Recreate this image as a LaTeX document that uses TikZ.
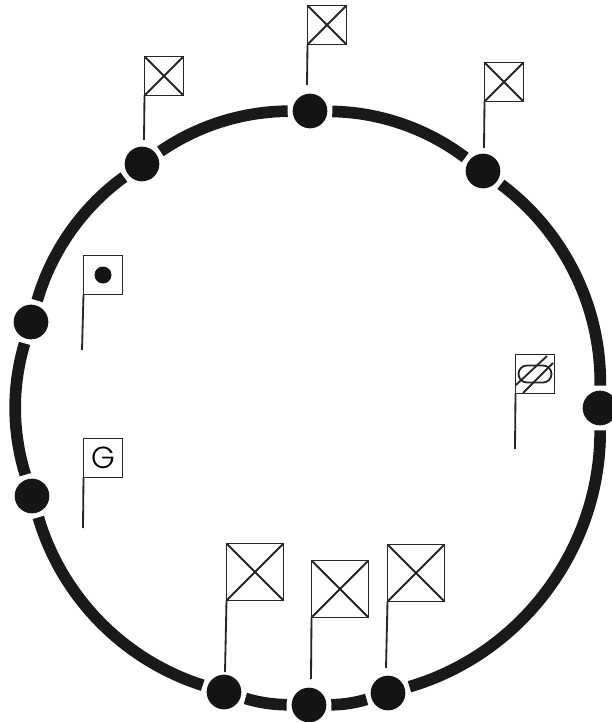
\documentclass[tikz,border=0pt]{standalone}
\usepackage{fontspec}
\usepackage{xcolor}
\usepackage{tikz}
\usetikzlibrary{shapes.misc}
\newfontfamily\flagfont{Poppins Light}

\begin{document}
\begin{tikzpicture}[x=0.3mm, y=-0.3mm,
  stn/.style={circle, fill=black!92, minimum size=10.4mm, inner sep=0pt, outer sep=1.5mm},
  rail/.style={line width=3.5mm, black!90, looseness=0.87},
  pole/.style={line width=0.55mm, black!85},
  flagbox/.style={rectangle, draw=black!85, line width=0.55mm, fill=white, minimum size=11.7mm, inner sep=0pt, outer sep=0pt},
  flagbig/.style={flagbox, minimum size=17.1mm},
  crossed/.style={path picture={
    \draw[line width=0.55mm, black!85] (path picture bounding box.north west) -- (path picture bounding box.south east);
    \draw[line width=0.55mm, black!85] (path picture bounding box.south west) -- (path picture bounding box.north east);}}]
\useasboundingbox (0,0) rectangle (611,722);
% stations round the ring
\node[stn] (top) at (310,111) {};
\node[stn] (ne) at (483,171) {};
\node[stn] (east) at (600,408) {};
\node[stn] (se) at (388,693) {};
\node[stn] (south) at (309,705) {};
\node[stn] (sw) at (224,692) {};
\node[stn] (wlow) at (32,496) {};
\node[stn] (wup) at (31,322) {};
\node[stn] (nw) at (142,164) {};
\draw[rail] (top) to[bend left=18] (ne);
\draw[rail, looseness=0.9] (ne) to[bend left=27] (east);
\draw[rail, looseness=0.94] (east) to[bend left=37] (se);
\draw[rail] (se) to[bend left=8] (south);
\draw[rail] (south) to[bend left=8] (sw);
\draw[rail, looseness=0.9] (sw) to[bend left=28] (wlow);
\draw[rail] (wlow) to[bend left=17] (wup);
\draw[rail] (wup) to[bend left=19] (nw);
\draw[rail] (nw) to[bend left=17] (top);
% small flags
\node[flagbox, crossed] (ftop) at (327,25) {};
\node[flagbox, crossed] (fnw) at (164,76) {};
\node[flagbox, crossed] (fne) at (504,82) {};
\node[flagbox] (fdot) at (103,275) {};
\node[circle, fill=black!92, minimum size=5.1mm, inner sep=0pt] (dot) at (fdot.center) {};
\node[flagbox, font=\flagfont\fontsize{26}{26}\selectfont] (fg) at (103,458) {G};
\node[flagbox] (fbar) at (535,374) {};
\node[rounded rectangle, draw=black!85, line width=0.55mm, minimum width=9.9mm, minimum height=5.1mm, inner sep=0pt] (oval) at (fbar.center) {};
\coordinate (ba) at (516,385);
\coordinate (bb) at (547,356);
\coordinate (bc) at (523,393);
\coordinate (bd) at (553,363);
\draw[line width=0.55mm, black!85] (ba) -- (bb);
\draw[line width=0.55mm, black!85] (bc) -- (bd);
% big flags
\node[flagbig, crossed] (fbl) at (255,572) {};
\node[flagbig, crossed] (fbm) at (340,589) {};
\node[flagbig, crossed] (fbr) at (416,573) {};
% poles
\coordinate (ptop) at (307,85);
\coordinate (pnw) at (144,140);
\coordinate (pne) at (484,148);
\coordinate (pdot) at (82,350);
\coordinate (pg) at (83,528);
\coordinate (pbar) at (515,449);
\coordinate (pbl) at (225,672);
\coordinate (pbm) at (311,679);
\coordinate (pbr) at (386,668);
\draw[pole] (ftop.south west) -- (ptop);
\draw[pole] (fnw.south west) -- (pnw);
\draw[pole] (fne.south west) -- (pne);
\draw[pole] (fdot.south west) -- (pdot);
\draw[pole] (fg.south west) -- (pg);
\draw[pole] (fbar.south west) -- (pbar);
\draw[pole] (fbl.south west) -- (pbl);
\draw[pole] (fbm.south west) -- (pbm);
\draw[pole] (fbr.south west) -- (pbr);
\end{tikzpicture}
\end{document}
